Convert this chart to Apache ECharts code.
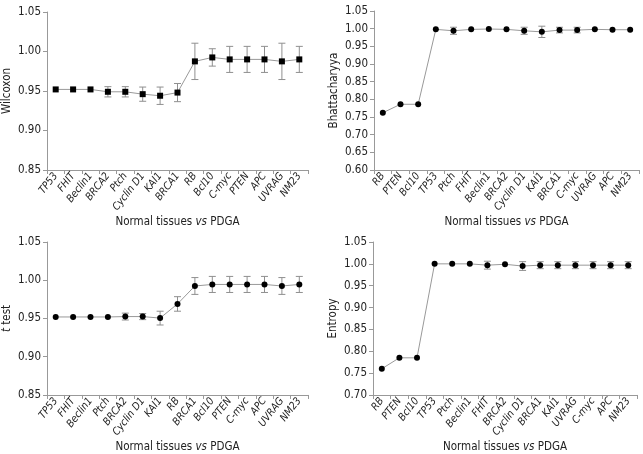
<!DOCTYPE html>
<html><head><meta charset="utf-8">
<script src="https://cdn.jsdelivr.net/npm/echarts@6/dist/echarts.min.js"></script>
<style>html,body{margin:0;padding:0;background:#fff}#c{width:643px;height:454px}</style>
</head><body><div id="c"></div>
<script>
// Panel A: Wilcoxon
const catsA = ['TP53','FHIT','Beclin1','BRCA2','Ptch','Cyclin D1','KAI1','BRCA1','RB','Bcl10','C-myc','PTEN','APC','UVRAG','NM23'];
const valsA = [0.952,0.952,0.952,0.949,0.949,0.946,0.944,0.948,0.9875,0.9925,0.990,0.990,0.990,0.9875,0.990];
const errA  = [0,0,0,0.0065,0.0065,0.009,0.011,0.0115,0.023,0.011,0.0165,0.0165,0.0165,0.023,0.0165];
// Panel B: Bhattacharyya
const catsB = ['RB','PTEN','Bcl10','TP53','Ptch','FHIT','Beclin1','BRCA2','Cyclin D1','KAI1','BRCA1','C-myc','UVRAG','APC','NM23'];
const valsB = [0.762,0.786,0.786,0.998,0.994,0.998,0.999,0.998,0.994,0.991,0.996,0.996,0.998,0.997,0.997];
const errB  = [0,0,0,0,0.01,0,0,0,0.01,0.016,0.008,0.008,0,0,0];
// Panel C: t test
const catsC = ['TP53','FHIT','Beclin1','Ptch','BRCA2','Cyclin D1','KAI1','RB','BRCA1','Bcl10','PTEN','C-myc','APC','UVRAG','NM23'];
const valsC = [0.952,0.952,0.952,0.952,0.9525,0.9525,0.9505,0.969,0.9925,0.9945,0.9945,0.9945,0.9945,0.9925,0.9945];
const errC  = [0,0,0,0,0.0045,0.004,0.009,0.0095,0.011,0.0105,0.0105,0.0105,0.0105,0.011,0.0105];
// Panel D: Entropy
const catsD = ['RB','PTEN','Bcl10','TP53','Ptch','Beclin1','FHIT','BRCA2','Cyclin D1','BRCA1','KAI1','UVRAG','C-myc','APC','NM23'];
const valsD = [0.760,0.785,0.785,1.000,1.000,1.000,0.997,0.999,0.995,0.997,0.997,0.997,0.997,0.997,0.997];
const errD  = [0,0,0,0,0,0,0.009,0,0.01,0.008,0.008,0.008,0.008,0.008,0.008];

const FONT = '"DejaVu Sans Condensed", "DejaVu Sans", sans-serif';
const grids = [
  {left:44, right:335, top:12, bottom:284},
  {left:374, right:4, top:11, bottom:284},
  {left:43, right:335, top:242, bottom:54},
  {left:373, right:6, top:242, bottom:54}
];
const panels = [
  {cats:catsA, vals:valsA, err:errA, min:0.85, max:1.05, interval:0.05, name:'Wilcoxon', sym:'rect', size:6},
  {cats:catsB, vals:valsB, err:errB, min:0.60, max:1.05, interval:0.05, name:'Bhattacharyya', sym:'circle', size:6},
  {cats:catsC, vals:valsC, err:errC, min:0.85, max:1.05, interval:0.05, name:'{i|t} test', sym:'circle', size:6},
  {cats:catsD, vals:valsD, err:errD, min:0.70, max:1.05, interval:0.05, name:'Entropy', sym:'circle', size:6}
];
const axisColor = '#999';
const xAxis = [], yAxis = [], series = [];
panels.forEach((p, i) => {
  xAxis.push({
    type:'category', gridIndex:i, data:p.cats, boundaryGap:true,
    axisLine:{lineStyle:{color:axisColor}},
    axisTick:{show:true, length:4, lineStyle:{color:axisColor}, alignWithLabel:false},
    axisLabel:{interval:0, rotate:52, fontFamily:FONT, fontSize:10.5, fontStyle:'italic', color:'#222', margin:4},
    name:'Normal tissues {i|vs} PDGA', nameLocation:'middle', nameGap:i<2?40:41,
    nameTextStyle:{fontFamily:FONT, fontSize:11.5, color:'#222', rich:{i:{fontStyle:'italic', fontFamily:FONT, fontSize:11.5, color:'#222'}}}
  });
  yAxis.push({
    type:'value', gridIndex:i, min:p.min, max:p.max, interval:p.interval,
    axisLine:{show:true, lineStyle:{color:axisColor}},
    axisTick:{show:true, length:4, lineStyle:{color:axisColor}},
    splitLine:{show:false},
    axisLabel:{formatter:v=>v.toFixed(2), fontFamily:FONT, fontSize:11.5, color:'#222', margin:6},
    name:p.name, nameLocation:'middle', nameGap:34, nameRotate:90,
    nameTextStyle:{fontFamily:FONT, fontSize:11.5, color:'#222', rich:{i:{fontStyle:'italic', fontFamily:FONT, fontSize:11.5, color:'#222'}}}
  });
  series.push({
    type:'custom', xAxisIndex:i, yAxisIndex:i,
    data:p.vals.map((v,k)=>[k, v-p.err[k], v+p.err[k]]),
    renderItem:function(params, api){
      const lo = api.coord([api.value(0), api.value(1)]);
      const hi = api.coord([api.value(0), api.value(2)]);
      if (Math.abs(hi[1]-lo[1]) < 1) return {type:'group', children:[]};
      const w = 3.5;
      const st = {stroke:'#8f8f8f', lineWidth:1};
      return {type:'group', children:[
        {type:'line', shape:{x1:lo[0], y1:lo[1], x2:hi[0], y2:hi[1]}, style:st},
        {type:'line', shape:{x1:lo[0]-w, y1:lo[1], x2:lo[0]+w, y2:lo[1]}, style:st},
        {type:'line', shape:{x1:hi[0]-w, y1:hi[1], x2:hi[0]+w, y2:hi[1]}, style:st}
      ]};
    },
    z:2
  });
  series.push({
    type:'line', xAxisIndex:i, yAxisIndex:i, data:p.vals,
    symbol:p.sym, symbolSize:p.size,
    lineStyle:{color:'#999', width:1},
    itemStyle:{color:'#000'}, z:3, animation:false
  });
});
const chart = echarts.init(document.getElementById('c'));
chart.setOption({animation:false, grid:grids, xAxis, yAxis, series});
</script></body></html>
